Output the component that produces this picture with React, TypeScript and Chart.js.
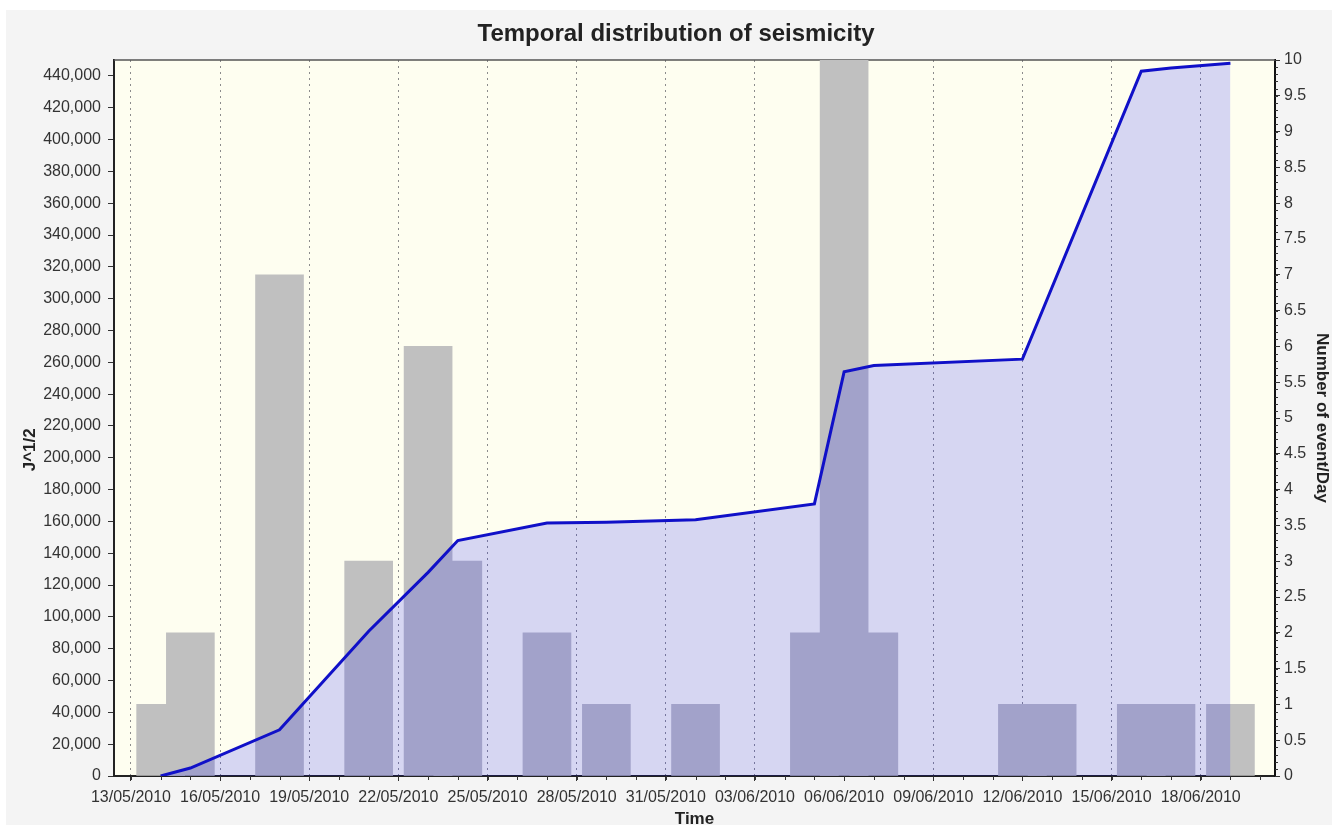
import React, { useEffect, useRef } from 'react';
import { Chart, registerables } from 'chart.js';

Chart.register(...registerables);

// ---------- data ----------
const tickDates = [
  '13/05/2010', '16/05/2010', '19/05/2010', '22/05/2010', '25/05/2010', '28/05/2010',
  '31/05/2010', '03/06/2010', '06/06/2010', '09/06/2010', '12/06/2010', '15/06/2010', '18/06/2010',
];

const barDates = [
  '14/05/2010', '15/05/2010', '18/05/2010', '21/05/2010', '23/05/2010', '24/05/2010',
  '27/05/2010', '29/05/2010', '01/06/2010', '05/06/2010', '06/06/2010', '07/06/2010',
  '12/06/2010', '13/06/2010', '16/06/2010', '17/06/2010', '19/06/2010',
];
const eventsPerDay = [1, 2, 7, 3, 6, 3, 2, 1, 1, 2, 10, 2, 1, 1, 1, 1, 1];

const energyDates = [
  '14/05/2010', '15/05/2010', '18/05/2010', '21/05/2010', '23/05/2010', '24/05/2010',
  '27/05/2010', '29/05/2010', '01/06/2010', '05/06/2010', '06/06/2010', '07/06/2010',
  '12/06/2010', '16/06/2010', '17/06/2010', '19/06/2010',
];
const cumulativeEnergy = [
  0, 5000, 29000, 91000, 128000, 148000,
  159000, 159500, 161000, 171000, 254000, 258000,
  262000, 443000, 445000, 448000,
];

const leftAxisMax = 450000;
const leftTickValues = [
  0, 20000, 40000, 60000, 80000, 100000, 120000, 140000, 160000, 180000, 200000, 220000,
  240000, 260000, 280000, 300000, 320000, 340000, 360000, 380000, 400000, 420000, 440000,
];
const rightAxisMax = 10;
const rightTickValues = [
  0, 0.5, 1, 1.5, 2, 2.5, 3, 3.5, 4, 4.5, 5, 5.5, 6, 6.5, 7, 7.5, 8, 8.5, 9, 9.5, 10,
];
const rightMinorStep = 0.1;
const xAxisMinDay = -0.57;
const xAxisMaxDay = 38.5;
const leftAxisTitle = 'J^1/2';
const leftAxisTitleCenterValue = 205000;

// ---------- helpers ----------
const FONT = "'Liberation Sans', Arial, sans-serif";

function dayOf(s: string): number {
  const [d, m, y] = s.split('/').map(Number);
  const [d0, m0, y0] = tickDates[0].split('/').map(Number);
  return (Date.UTC(y, m - 1, d) - Date.UTC(y0, m0 - 1, d0)) / 86400000;
}

const backgroundPlugin = {
  id: 'bgPlugin',
  beforeDraw(chart: any) {
    const { ctx, width, height, chartArea } = chart;
    ctx.save();
    ctx.fillStyle = '#ffffff';
    ctx.fillRect(0, 0, width, height);
    ctx.fillStyle = '#f4f4f4';
    ctx.fillRect(6, 10, width - 6, height - 10);
    ctx.fillStyle = '#fefef0';
    ctx.fillRect(chartArea.left, chartArea.top, chartArea.right - chartArea.left, chartArea.bottom - chartArea.top);
    ctx.restore();
  },
  beforeDatasetsDraw(chart: any) {
    const { ctx, chartArea } = chart;
    ctx.save();
    ctx.strokeStyle = '#555555';
    ctx.lineWidth = 1.5;
    ctx.beginPath();
    ctx.moveTo(chartArea.left, chartArea.top);
    ctx.lineTo(chartArea.right, chartArea.top);
    ctx.stroke();
    ctx.restore();
  },
  afterDraw(chart: any) {
    const { ctx } = chart;
    const x = chart.scales.x;
    const y = chart.scales.y;
    const y2 = chart.scales.y2;
    ctx.save();
    ctx.strokeStyle = '#333333';
    ctx.lineWidth = 1;
    ctx.beginPath();
    for (let d = Math.ceil(xAxisMinDay); d <= Math.floor(xAxisMaxDay); d++) {
      const px = Math.round(x.getPixelForValue(d)) + 0.5;
      ctx.moveTo(px, x.top);
      ctx.lineTo(px, x.top + 4);
    }
    const n = Math.round(rightAxisMax / rightMinorStep);
    for (let i = 0; i <= n; i++) {
      const py = Math.round(y2.getPixelForValue(i * rightMinorStep)) + 0.5;
      ctx.moveTo(y2.left, py);
      ctx.lineTo(y2.left + 3, py);
    }
    ctx.stroke();

    // left axis title
    ctx.translate(y.left + 10, y.getPixelForValue(leftAxisTitleCenterValue));
    ctx.rotate(-Math.PI / 2);
    ctx.fillStyle = '#222222';
    ctx.font = `bold 17px ${FONT}`;
    ctx.textAlign = 'center';
    ctx.textBaseline = 'middle';
    ctx.fillText(leftAxisTitle, 0, 0);
    ctx.restore();
  },
};

export default function App() {
  const ref = useRef<HTMLCanvasElement>(null);

  useEffect(() => {
    document.body.style.margin = '0';
    Chart.defaults.font.family = FONT;
    Chart.defaults.color = '#333333';

    const barData = barDates.map((d, i) => ({ x: dayOf(d), y: eventsPerDay[i] }));
    const lineData = energyDates.map((d, i) => ({ x: dayOf(d), y: cumulativeEnergy[i] }));

    const chart = new Chart(ref.current as HTMLCanvasElement, {
      type: 'bar',
      data: {
        datasets: [
          {
            type: 'line',
            label: 'J^1/2',
            data: lineData,
            yAxisID: 'y',
            xAxisID: 'x',
            borderColor: '#1010c8',
            borderWidth: 3,
            backgroundColor: 'rgba(0,0,255,0.155)',
            fill: 'origin',
            pointRadius: 0,
            tension: 0,
            order: 1,
          } as any,
          {
            type: 'bar',
            label: 'Number of event/Day',
            data: barData,
            yAxisID: 'y2',
            xAxisID: 'x',
            backgroundColor: '#c0c0c0',
            borderWidth: 0,
            barThickness: 48,
            order: 2,
          } as any,
        ],
      },
      options: {
        responsive: false,
        animation: false,
        devicePixelRatio: 1,
        layout: { padding: { left: 20, right: 0, top: 0, bottom: 0 } },
        plugins: {
          legend: { display: false },
          tooltip: { enabled: false },
          title: {
            display: true,
            text: 'Temporal distribution of seismicity',
            color: '#222222',
            font: { family: FONT, size: 24, weight: 'bold' },
            padding: { top: 20, bottom: 11.2 },
          },
        },
        scales: {
          x: {
            type: 'linear',
            position: 'bottom',
            min: xAxisMinDay,
            max: xAxisMaxDay,
            offset: false,
            afterBuildTicks: (s: any) => {
              s.ticks = tickDates.map((t) => ({ value: dayOf(t) }));
            },
            afterFit: (s: any) => {
              s.height = 49;
            },
            ticks: {
              autoSkip: false,
              maxRotation: 0,
              minRotation: 0,
              padding: 7,
              color: '#333333',
              font: { family: FONT, size: 16 },
              callback: (_v: any, i: number) => tickDates[i],
            },
            grid: {
              display: true,
              offset: false,
              drawOnChartArea: true,
              color: '#8c8c8c',
              lineWidth: 1,
              drawTicks: true,
              tickLength: 5,
              tickColor: '#333333',
              tickWidth: 1,
            },
            border: { display: true, color: '#222222', width: 2, dash: [2, 4] },
            title: {
              display: true,
              text: 'Time',
              color: '#222222',
              font: { family: FONT, size: 17, weight: 'bold' },
              padding: { top: 0, bottom: -5 },
            },
          } as any,
          y: {
            type: 'linear',
            position: 'left',
            min: 0,
            max: leftAxisMax,
            afterBuildTicks: (s: any) => {
              s.ticks = leftTickValues.map((v) => ({ value: v }));
            },
            afterFit: (s: any) => {
              s.width = 94;
            },
            ticks: {
              padding: 7,
              color: '#333333',
              font: { family: FONT, size: 16 },
              callback: (v: any) => Number(v).toLocaleString('en-US'),
            },
            grid: {
              drawOnChartArea: false,
              drawTicks: true,
              tickLength: 6,
              tickColor: '#333333',
              color: '#333333',
            },
            border: { display: true, color: '#222222', width: 2 },
            title: { display: false },
          } as any,
          y2: {
            type: 'linear',
            position: 'right',
            min: 0,
            max: rightAxisMax,
            afterBuildTicks: (s: any) => {
              s.ticks = rightTickValues.map((v) => ({ value: v }));
            },
            afterFit: (s: any) => {
              s.width = 57;
            },
            ticks: {
              padding: 4,
              color: '#333333',
              font: { family: FONT, size: 16 },
              callback: (v: any) => String(Number(v)),
            },
            grid: {
              drawOnChartArea: false,
              drawTicks: true,
              tickLength: 5,
              tickColor: '#333333',
              color: '#333333',
            },
            border: { display: true, color: '#111111', width: 2 },
            title: {
              display: true,
              text: 'Number of event/Day',
              color: '#222222',
              font: { family: FONT, size: 17, weight: 'bold' },
              padding: { top: 0, bottom: 0 },
            },
          } as any,
        },
      },
      plugins: [backgroundPlugin],
    } as any);

    return () => chart.destroy();
  }, []);

  return (
    <div style={{ position: 'fixed', left: 0, top: 0, width: 1332, height: 825, overflow: 'hidden' }}>
      <canvas ref={ref} width={1332} height={825} style={{ display: 'block' }} />
    </div>
  );
}
